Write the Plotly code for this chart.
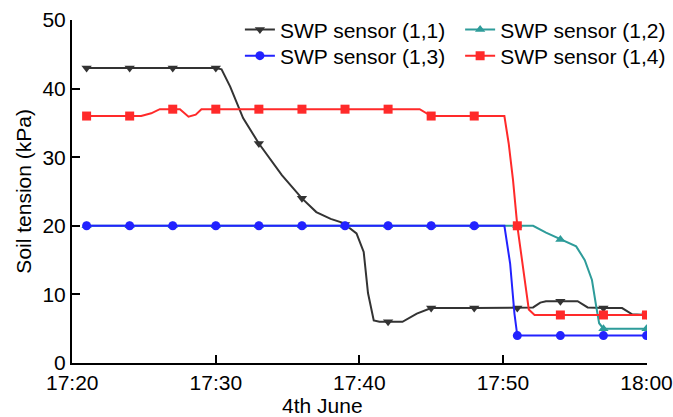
import pandas as pd
import plotly.graph_objects as go

# ---- data (time in minutes after 17:00, soil tension in kPa) ----
marker_minutes = [21, 24, 27, 30, 33, 36, 39, 42, 45, 48, 51, 54, 57, 60]

t_11 = [21, 24, 27, 30, 30.4, 31.0, 31.9, 33, 34.6, 36, 37, 38, 38.9, 39, 39.8, 40.3, 40.6, 41.0, 41.4, 42, 43, 44, 45, 48, 51,
        52.1, 52.6, 53, 54, 55.2, 55.9, 57, 58.3, 59, 60]
v_11 = [43, 43, 43, 43, 42.8, 40.3, 35.7, 32, 27.4, 24, 22, 21.0, 20.4, 20.2, 18.9, 16.2, 10.2, 6.2, 6, 6, 6, 7.2, 8, 8, 8,
        8.1, 8.8, 9, 9, 9, 8.1, 8, 8, 7.1, 7]

t_12 = [21, 24, 27, 30, 33, 36, 39, 42, 45, 48, 51, 52.1, 53, 54, 55.1, 55.7, 56.2, 56.5, 56.7, 57, 60]
v_12 = [20, 20, 20, 20, 20, 20, 20, 20, 20, 20, 20, 20, 19.0, 18, 17, 15, 12.1, 8.2, 5.8, 5, 5]

t_13 = [21, 24, 27, 30, 33, 36, 39, 42, 45, 48, 50.1, 50.5, 50.8, 51, 54, 57, 60]
v_13 = [20, 20, 20, 20, 20, 20, 20, 20, 20, 20, 20, 14.5, 7.2, 4, 4, 4, 4]

t_14 = [21, 24, 24.8, 25.5, 26.1, 27, 27.5, 28.1, 28.6, 29.0, 30, 33, 36, 39, 42, 44.2, 45, 48, 50.1, 50.4, 50.7, 51,
        51.4, 51.8, 52.2, 54, 57, 60]
v_14 = [36, 36, 36, 36.4, 37, 37, 37, 35.9, 36.2, 37, 37, 37, 37, 37, 37, 37, 36, 36, 36, 32, 26.7, 20,
        13.6, 7.8, 7, 7, 7, 7]

names = ["SWP sensor (1,1)", "SWP sensor (1,2)", "SWP sensor (1,3)", "SWP sensor (1,4)"]
colors = ["#333333", "#2E9C9A", "#2222FF", "#FF2A2A"]
symbols = ["triangle-down", "triangle-up", "circle", "square"]

x_ticks = ["17:20", "17:30", "17:40", "17:50", "18:00"]

base = pd.Timestamp("2023-06-04 17:00")


def to_time(mins):
    return [base + pd.to_timedelta(m, unit="m") for m in mins]


fig = go.Figure()
series = [(t_11, v_11), (t_12, v_12), (t_13, v_13), (t_14, v_14)]
legend_ids = ["legend", "legend2", "legend3", "legend4"]
for i in range(4):
    t, v = series[i]
    mcol = [colors[i] if m in marker_minutes else "rgba(0,0,0,0)" for m in t]
    fig.add_trace(go.Scatter(
        x=to_time(t), y=v, name=names[i], mode="lines+markers",
        line=dict(color=colors[i], width=2),
        marker=dict(symbol=symbols[i], size=9, color=mcol, line=dict(width=0)),
        legend=legend_ids[i],
    ))

tick_dates = [base + pd.Timedelta(minutes=int(s.split(":")[1]) + (60 if s.startswith("18") else 0)) for s in x_ticks]
x_range = [tick_dates[0] - pd.Timedelta(seconds=1), tick_dates[-1] + pd.Timedelta(seconds=2)]

FS = 21
leg_common = dict(xanchor="left", yanchor="middle", bgcolor="rgba(0,0,0,0)",
                  font=dict(size=FS), tracegroupgap=0, itemwidth=30)
col_x = [0.292, 0.675]
row_y = [0.971, 0.895]

fig.update_layout(
    width=673, height=417,
    margin=dict(l=72, r=26, t=20, b=54, autoexpand=False),
    paper_bgcolor="white", plot_bgcolor="white",
    font=dict(family="Liberation Sans, Arial, sans-serif", size=FS, color="black"),
    showlegend=True,
    legend=dict(x=col_x[0], y=row_y[0], **leg_common),
    legend2=dict(x=col_x[1], y=row_y[0], **leg_common),
    legend3=dict(x=col_x[0], y=row_y[1], **leg_common),
    legend4=dict(x=col_x[1], y=row_y[1], **leg_common),
    xaxis=dict(
        range=x_range, tickvals=tick_dates, ticktext=x_ticks,
        showgrid=False, zeroline=False, showline=True, linecolor="black", linewidth=2,
        ticks="inside", ticklen=8, tickwidth=2, tickcolor="black",
        tickfont=dict(size=FS), ticklabeloverflow="allow",
    ),
    yaxis=dict(
        range=[0, 50], dtick=10, showgrid=False, zeroline=False, showline=True,
        linecolor="black", linewidth=2, ticks="inside", ticklen=8, tickwidth=2,
        tickcolor="black", tickfont=dict(size=FS),
    ),
    annotations=[
        dict(text="4th June", xref="paper", yref="paper", x=0.435, y=-0.125,
             xanchor="center", yanchor="middle", showarrow=False, font=dict(size=FS)),
        dict(text="Soil tension (kPa)", xref="paper", yref="paper", x=-0.085, y=0.5,
             xanchor="center", yanchor="middle", textangle=-90, showarrow=False, font=dict(size=FS)),
    ],
)

fig.write_html(
    "out.html",
    config={"displayModeBar": False},
    post_script="document.body.style.margin='0';document.body.style.overflow='hidden';",
)
